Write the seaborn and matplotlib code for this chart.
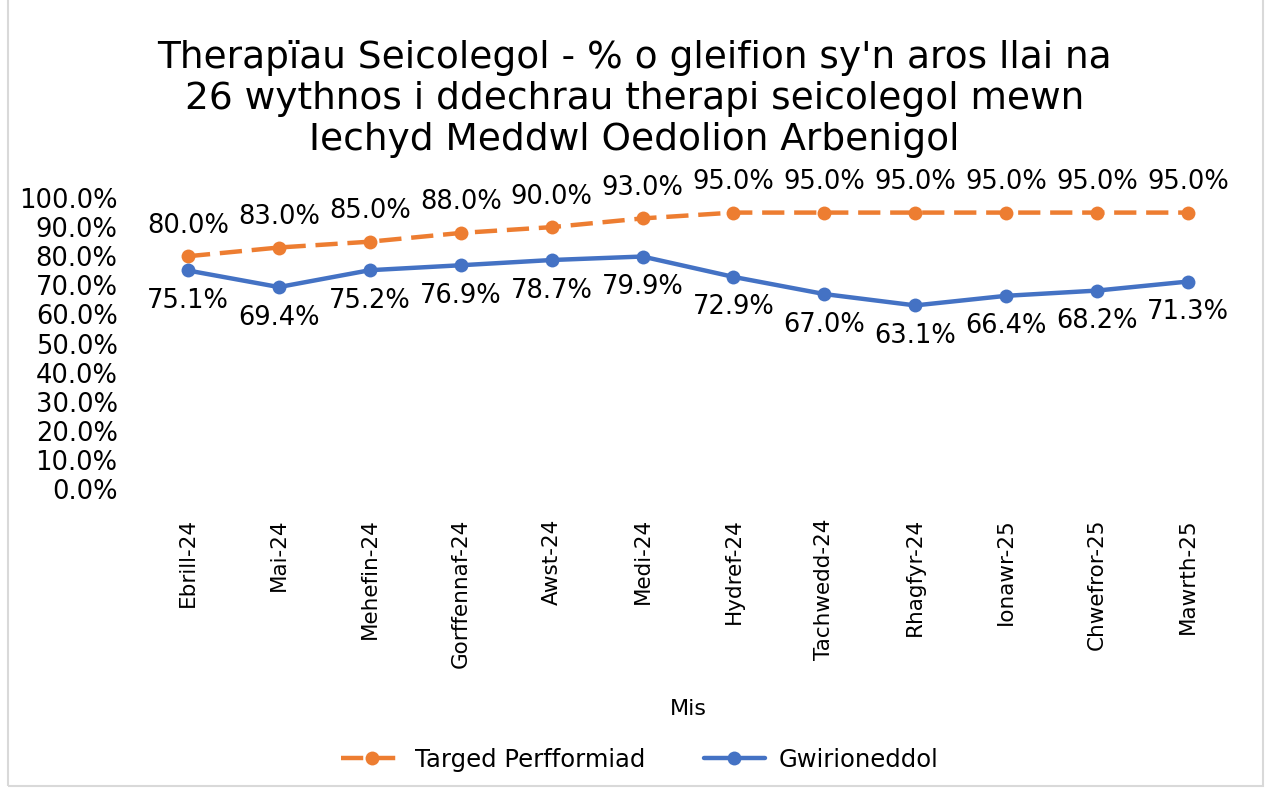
import matplotlib
matplotlib.use("Agg")
import matplotlib.pyplot as plt
import seaborn as sns
import pandas as pd
from matplotlib.patches import Rectangle

months = ["Ebrill-24", "Mai-24", "Mehefin-24", "Gorffennaf-24", "Awst-24", "Medi-24",
          "Hydref-24", "Tachwedd-24", "Rhagfyr-24", "Ionawr-25", "Chwefror-25", "Mawrth-25"]
target = [80.0, 83.0, 85.0, 88.0, 90.0, 93.0, 95.0, 95.0, 95.0, 95.0, 95.0, 95.0]
actual = [75.1, 69.4, 75.2, 76.9, 78.7, 79.9, 72.9, 67.0, 63.1, 66.4, 68.2, 71.3]

df = pd.DataFrame({"Mis": months, "target": target, "actual": actual})

sns.set_theme(style="white")
plt.rcParams["font.family"] = ["DejaVu Sans"]
plt.rcParams.update({"text.color": "black", "axes.labelcolor": "black",
                     "xtick.color": "black", "ytick.color": "black"})

orange = "#ED7D31"
blue = "#4472C4"

fig = plt.figure(figsize=(12.69, 7.89), dpi=100)
ax = fig.add_axes([0.1123, 0.3802, 0.8597, 0.3688])

sns.lineplot(data=df, x="Mis", y="target", ax=ax, color=orange, linewidth=3.2,
             marker="o", markersize=10, markeredgewidth=0, label="Targed Perfformiad",
             clip_on=False)
ax.lines[-1].set_dashes([5, 2.2])
sns.lineplot(data=df, x="Mis", y="actual", ax=ax, color=blue, linewidth=3.2,
             marker="o", markersize=10, markeredgewidth=0, label="Gwirioneddol",
             clip_on=False)

for i, (t, a) in enumerate(zip(target, actual)):
    ax.annotate(f"{t:.1f}%", (i, t), xytext=(0, 22), textcoords="offset points",
                ha="center", va="center", fontsize=18.5, annotation_clip=False)
    ax.annotate(f"{a:.1f}%", (i, a), xytext=(0, -22), textcoords="offset points",
                ha="center", va="center", fontsize=18.5, annotation_clip=False)

ax.set_xlim(-0.5, len(months) - 0.5)
ax.set_ylim(0, 100)
ax.set_yticks(range(0, 101, 10))
ax.set_yticklabels([f"{v:.1f}%" for v in range(0, 101, 10)], fontsize=18.5)
ax.set_xticks(range(len(months)))
ax.set_xticklabels(months, rotation=90, fontsize=15.5)
ax.tick_params(axis="y", length=0, pad=18)
ax.tick_params(axis="x", length=0, pad=21)
ax.set_xlabel("Mis", fontsize=16)
ax.xaxis.set_label_coords(0.5, -0.72)
ax.set_ylabel("")
sns.despine(ax=ax, left=True, bottom=True)

fig.text(0.5, 0.874, "Therapïau Seicolegol - % o gleifion sy'n aros llai na\n"
         "26 wythnos i ddechrau therapi seicolegol mewn\n"
         "Iechyd Meddwl Oedolion Arbenigol",
         ha="center", va="center", fontsize=27, linespacing=1.18)

ax.legend(loc="center", bbox_to_anchor=(0.504, 0.037), bbox_transform=fig.transFigure,
          frameon=False, ncol=2, fontsize=17.5, handlelength=2.5, handletextpad=0.55,
          columnspacing=2.4)

fig.patches.append(Rectangle((0.006, 0.004), 0.989, 1.2, transform=fig.transFigure,
                             fill=False, edgecolor="#D9D9D9", linewidth=1.5))

fig.savefig("out.png", dpi=100)
